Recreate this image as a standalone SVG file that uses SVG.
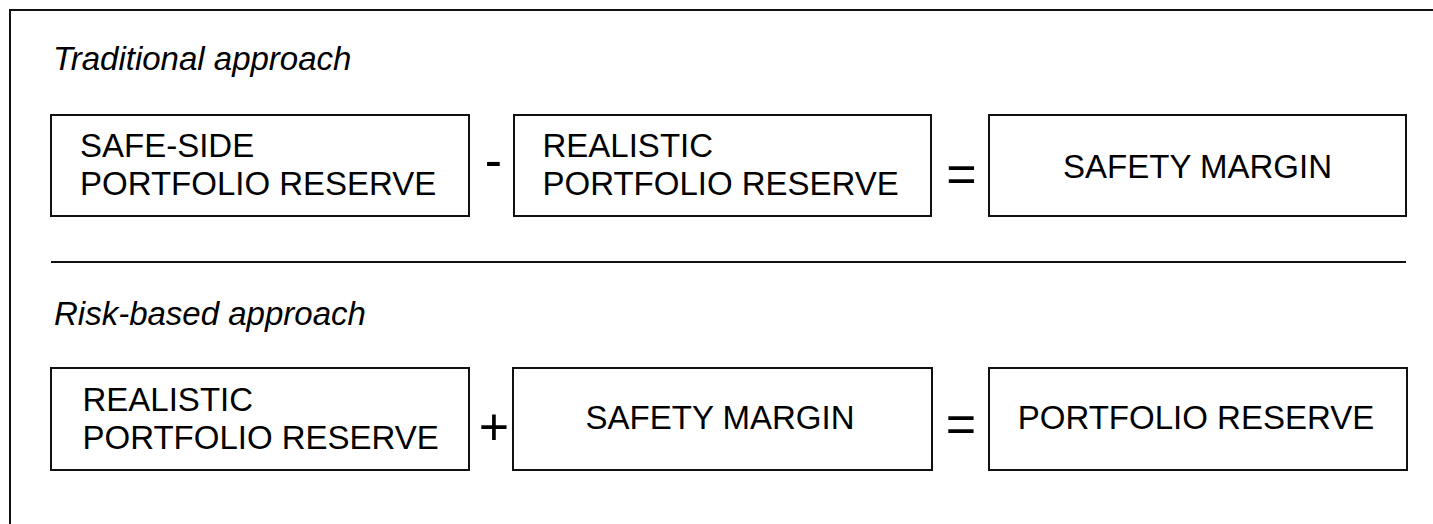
<svg xmlns="http://www.w3.org/2000/svg" width="1433" height="524" viewBox="0 0 1433 524">
  <style>
    .frame { fill: none; stroke: #111; stroke-width: 2; }
    .box { fill: #fff; stroke: #111; stroke-width: 2; }
    .rule { stroke: #111; stroke-width: 2; }
    .lbl { font-family: "Liberation Sans", Arial, sans-serif; font-size: 33px; fill: #000; }
    .mid { text-anchor: middle; }
    .head { font-family: "Liberation Sans", Arial, sans-serif; font-size: 33px; font-style: italic; fill: #000; }
    .op { font-family: "Liberation Sans", Arial, sans-serif; font-size: 52px; fill: #000; text-anchor: middle; }
  </style>

  <rect width="1433" height="524" fill="#fff"/>
  <!-- outer frame (right and bottom edges run off the page) -->
  <rect class="frame" x="10" y="10" width="1440" height="540"/>

  <!-- section headings and divider -->
  <text class="head" x="53" y="70">Traditional approach</text>
  <line class="rule" x1="51" y1="262" x2="1406" y2="262"/>
  <text class="head" x="54" y="325">Risk-based approach</text>

  <!-- traditional approach -->
  <g id="trad-safe-side">
    <rect class="box" x="51" y="115" width="418" height="101"/>
    <text class="lbl" x="80" y="156.5">SAFE-SIDE</text>
    <text class="lbl" x="80" y="195">PORTFOLIO RESERVE</text>
  </g>
  <g id="trad-realistic">
    <rect class="box" x="514" y="115" width="417" height="101"/>
    <text class="lbl" x="542.5" y="156.5">REALISTIC</text>
    <text class="lbl" x="542.5" y="195">PORTFOLIO RESERVE</text>
  </g>
  <g id="trad-margin">
    <rect class="box" x="989" y="115" width="417" height="101"/>
    <text class="lbl mid" x="1197.5" y="178">SAFETY MARGIN</text>
  </g>

  <!-- risk-based approach -->
  <g id="risk-realistic">
    <rect class="box" x="51" y="368" width="418" height="102"/>
    <text class="lbl" x="82.5" y="410.5">REALISTIC</text>
    <text class="lbl" x="82.5" y="449">PORTFOLIO RESERVE</text>
  </g>
  <g id="risk-margin">
    <rect class="box" x="513" y="368" width="419" height="102"/>
    <text class="lbl mid" x="720" y="429">SAFETY MARGIN</text>
  </g>
  <g id="risk-reserve">
    <rect class="box" x="989" y="368" width="418" height="102"/>
    <text class="lbl mid" x="1196" y="429">PORTFOLIO RESERVE</text>
  </g>

  <!-- operators between the boxes -->
  <g id="connectors">
    <text class="op" x="493.5" y="177.5">-</text>
    <text class="op" x="961.5" y="192">=</text>
    <text class="op" x="494" y="444.5">+</text>
    <text class="op" x="961" y="441.5">=</text>
  </g>
</svg>
